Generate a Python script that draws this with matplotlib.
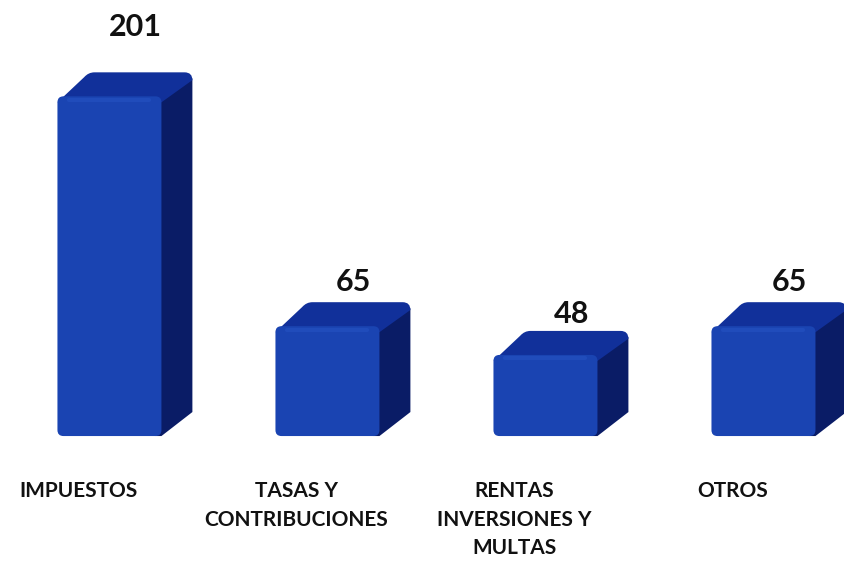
import matplotlib
matplotlib.use("Agg")
import matplotlib.pyplot as plt
from matplotlib.patches import Polygon, FancyBboxPatch, PathPatch
from matplotlib.path import Path
import numpy as np

categories = ["IMPUESTOS", "TASAS Y\nCONTRIBUCIONES", "RENTAS\nINVERSIONES Y\nMULTAS", "OTROS"]
values = [201, 65, 48, 65]

plt.rcParams['font.family'] = ['Lato', 'DejaVu Sans']

fig = plt.figure(figsize=(8.45, 5.65), dpi=100)
ax = fig.add_axes([0, 0, 1, 1])
ax.set_xlim(-0.502, 3.374)
ax.set_ylim(-76.3, 258.0)
ax.axis('off')

front_c = '#1a44b2'
top_c = '#11309a'
side_c = '#0a1c66'

width = 0.477
dx = 0.142
dy = 14.2
# unit conversions (data units per pixel)
ux = 1 / 218.0
uy = 1 / 1.69
aspect = uy / ux
rpx = 6  # rounding in pixels

x = np.arange(len(values))
bars = ax.bar(x, values, width=width, color='none', edgecolor='none', zorder=3)

for b in bars:
    x0 = b.get_x()
    x1 = x0 + b.get_width()
    h = b.get_height()
    rx, ry = rpx * ux, rpx * uy
    # side face
    side = Polygon([[x1 - rx, 0], [x1, 0], [x1 + dx, dy], [x1 + dx, h + dy - ry],
                    [x1, h], [x1 - rx, h]],
                   closed=True, facecolor=side_c, edgecolor='none', zorder=2)
    ax.add_patch(side)
    # top face with rounded corners
    verts = [(x0, h - ry), (x0 + dx - rx * 0.7, h + dy - ry * 0.8),
             (x0 + dx, h + dy), (x0 + dx + rx, h + dy),
             (x1 + dx - rx * 1.3, h + dy), (x1 + dx, h + dy), (x1 + dx, h + dy - ry * 1.3),
             (x1, h - ry), (x0, h - ry)]
    codes = [Path.MOVETO, Path.LINETO, Path.CURVE3, Path.CURVE3,
             Path.LINETO, Path.CURVE3, Path.CURVE3, Path.LINETO, Path.CLOSEPOLY]
    ax.add_patch(PathPatch(Path(verts, codes), facecolor=top_c, edgecolor='none', zorder=2))
    # front face with rounded corners
    front = FancyBboxPatch((x0 + rx, ry), (x1 - x0) - 2 * rx, h - 2 * ry,
                           boxstyle=f"round,pad={rx},rounding_size={rx}",
                           mutation_aspect=aspect, facecolor=front_c,
                           edgecolor='none', zorder=3)
    ax.add_patch(front)
    # soft highlight along front top edge
    ax.plot([x0 + 2 * rx, x1 - 2 * rx], [h - 2.0, h - 2.0], color='#2350c0', lw=3,
            zorder=4, solid_capstyle='round', alpha=0.7)

for xi, v in zip(x, values):
    ax.text(xi + 0.12, 1.11 * v + 19, str(v), ha='center', va='center',
            fontsize=22, fontweight='bold', color='#111111')

for xi, c in zip(x, categories):
    ax.text(xi - 0.142, -26.5, c, ha='center', va='top', fontsize=15,
            fontweight='bold', color='#111111', linespacing=1.55)

fig.savefig('out.png', dpi=100, facecolor='white')
